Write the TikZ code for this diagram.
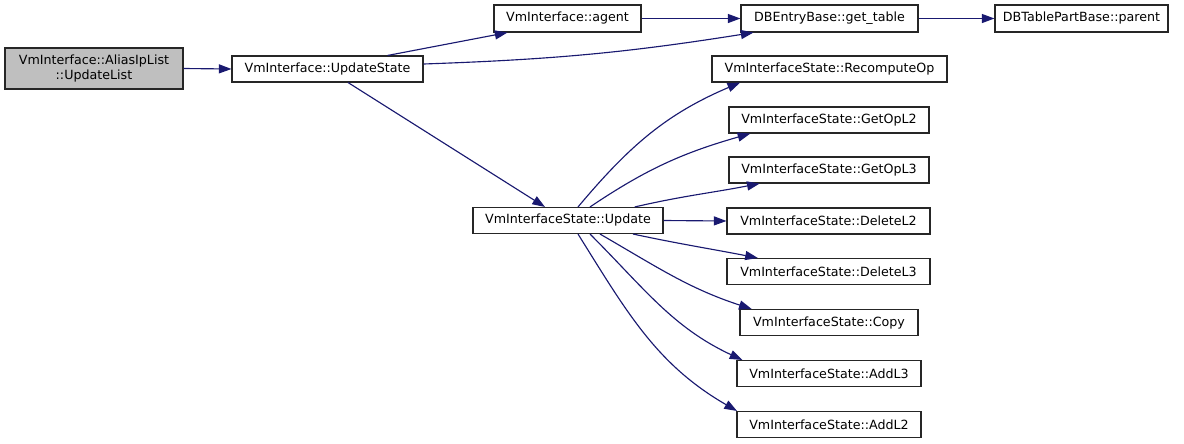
\documentclass[tikz,border=0pt]{standalone}
\usepackage{fontspec}
\setmainfont{DejaVu Sans}
\usetikzlibrary{arrows.meta}
\definecolor{edgec}{HTML}{191970}
\definecolor{hl}{HTML}{BFBFBF}
\begin{document}
\begin{tikzpicture}[x=0.75pt,y=-0.75pt,
  box/.style={draw=black!85,line width=0.8pt,fill=white,inner sep=0pt,minimum height=19.5pt,
    font=\fontsize{9.5}{11.25}\selectfont,align=center},
  e/.style={draw=edgec,line width=0.85pt,-{Triangle[length=9.5pt,width=6.8pt]}}]
\useasboundingbox (0,0) rectangle (1184,443);
\node[box,fill=hl,minimum width=133.5pt,minimum height=30.75pt] (alias) at (94,68.5) {VmInterface::AliasIpList\\::UpdateList};
\node[box,minimum width=143.25pt] (us) at (327.5,69) {VmInterface::UpdateState};
\node[box,minimum width=110.25pt,minimum height=20.25pt] (agent) at (567.5,18.5) {VmInterface::agent};
\node[box,minimum width=132.75pt,minimum height=20.25pt] (gt) at (829.5,18.5) {DBEntryBase::get\_table};
\node[box,minimum width=129.75pt,minimum height=20.25pt] (parent) at (1081.5,18.5) {DBTablePartBase::parent};
\node[box,minimum width=176.25pt] (rec) at (829.5,69) {VmInterfaceState::RecomputeOp};
\node[box,minimum width=150pt] (g2) at (829,120) {VmInterfaceState::GetOpL2};
\node[box,minimum width=150pt] (g3) at (829,170) {VmInterfaceState::GetOpL3};
\node[box,minimum width=152.25pt] (d2) at (828.5,221) {VmInterfaceState::DeleteL2};
\node[box,minimum width=152.25pt] (d3) at (828.5,271.5) {VmInterfaceState::DeleteL3};
\node[box,minimum width=133.5pt] (copy) at (829,322.5) {VmInterfaceState::Copy};
\node[box,minimum width=138pt] (a3) at (829,373.5) {VmInterfaceState::AddL3};
\node[box,minimum width=138pt] (a2) at (829,424.5) {VmInterfaceState::AddL2};
\node[box,minimum width=142.5pt] (upd) at (568,220.5) {VmInterfaceState::Update};

\draw[e] (alias.east) -- (us.west);
\draw[e] ([xshift=45pt]us.north) -- ([xshift=-45pt]agent.south);
\draw[e] ([yshift=3.75pt]us.east) to[out=2,in=189] ([xshift=-57pt]gt.south);
\draw[e] (agent.east) -- (gt.west);
\draw[e] (gt.east) -- (parent.west);
\draw[e] ([xshift=15.4pt]us.south) -- ([xshift=-17.25pt]upd.north);
\draw[e] ([xshift=7.5pt]upd.north) to[out=50,in=203] ([xshift=-67pt]rec.south);
\draw[e] ([xshift=16.5pt]upd.north) to[out=34,in=196] ([xshift=-59pt]g2.south);
\draw[e] ([xshift=50pt]upd.north) to[out=13,in=191] ([xshift=-52pt]g3.south);
\draw[e] (upd.east) -- (d2.west);
\draw[e] ([xshift=48.75pt]upd.south) to[out=-12,in=169] ([xshift=-53pt]d3.north);
\draw[e] ([xshift=24pt]upd.south) to[out=-30,in=162] ([xshift=-58pt]copy.north);
\draw[e] ([xshift=16.5pt]upd.south) to[out=-45,in=155] ([xshift=-65pt]a3.north);
\draw[e] ([xshift=7.5pt]upd.south) to[out=-58,in=150] ([xshift=-69pt]a2.north);
\end{tikzpicture}
\end{document}
